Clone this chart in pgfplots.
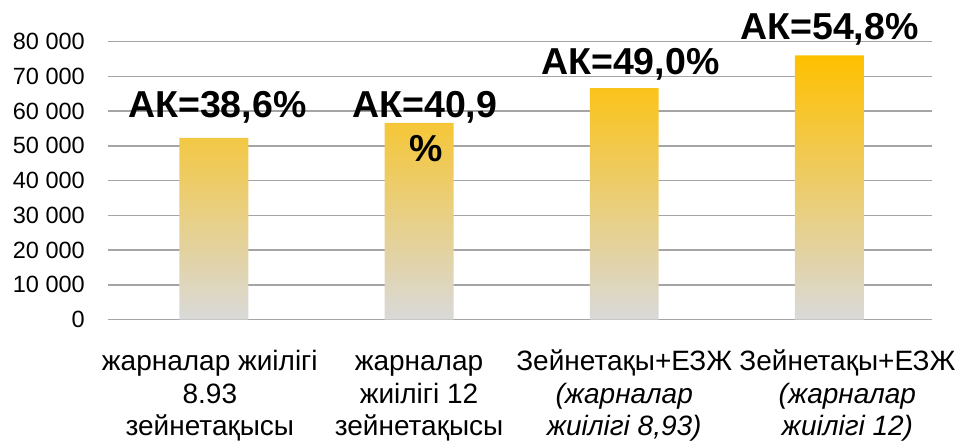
\documentclass[border=0pt]{standalone}
\usepackage{fontspec}
\setmainfont{Liberation Sans}
\usepackage{pgfplots}
\pgfplotsset{compat=1.18}
\definecolor{barTop}{RGB}{255,192,0}
\definecolor{barMid}{RGB}{242,199,130}
\definecolor{barBot}{RGB}{217,217,217}
\definecolor{gridc}{RGB}{165,165,165}
\newcommand{\xl}[1]{\vtop{\baselineskip=32.5pt\lineskiplimit=-10pt\lineskip=0pt\halign{\hfil##\hfil\cr #1\cr}}}
\begin{document}
\begin{tikzpicture}
\begin{axis}[
  name=ax,
  scale only axis,
  width=824pt, height=278pt,
  xmin=-0.516, xmax=3.5,
  ymin=0, ymax=80000,
  clip=false,
  scaled y ticks=false,
  axis line style={draw=none},
  tick style={draw=none},
  ymajorgrids,
  major grid style={draw=gridc, line width=1.5pt},
  ytick={0,10000,...,80000},
  yticklabels={0,10 000,20 000,30 000,40 000,50 000,60 000,70 000,80 000},
  yticklabel style={font=\fontsize{23.5}{27}\selectfont, inner sep=0pt, anchor=east, xshift=-23pt},
  xtick={0,1,2,3},
  xticklabels={
    {\xl{жарналар жиілігі\cr 8.93\cr зейнетақысы}\kern8pt},
    {\xl{жарналар\cr жиілігі 12\cr зейнетақысы}},
    {\xl{Зейнетақы+ЕЗЖ\cr\itshape (жарналар\cr\itshape жиілігі 8,93)}},
    {\kern36pt\xl{Зейнетақы+ЕЗЖ\cr\itshape (жарналар\cr\itshape жиілігі 12)}}
  },
  xticklabel style={inner sep=0pt, anchor=base, yshift=-51pt, font=\fontsize{28}{33}\selectfont},
]
\addplot[ybar, bar width=0.336, draw=none, top color=barTop, middle color=barMid, bottom color=barBot]
  coordinates {(0,52300) (1,56600) (2,66600) (3,76000)};
\begin{scope}[every node/.style={anchor=base, inner sep=0pt, font=\fontsize{37.5}{40}\selectfont\bfseries}]
\node at (axis cs:0.017,58200) {АК=38,6\%};
\node at (axis cs:1.028,58200) {АК=40,9};
\node at (axis cs:1.035,45600) {\%};
\node at (axis cs:2.03,70650) {АК=49,0\%};
\node at (axis cs:3.0,80630) {АК=54,8\%};
\end{scope}
\end{axis}
\pgfresetboundingbox
\path[use as bounding box] ([shift={(-108pt,-121.7pt)}]ax.south west) rectangle ([shift={(32pt,41.6pt)}]ax.north east);
\end{tikzpicture}
\end{document}
